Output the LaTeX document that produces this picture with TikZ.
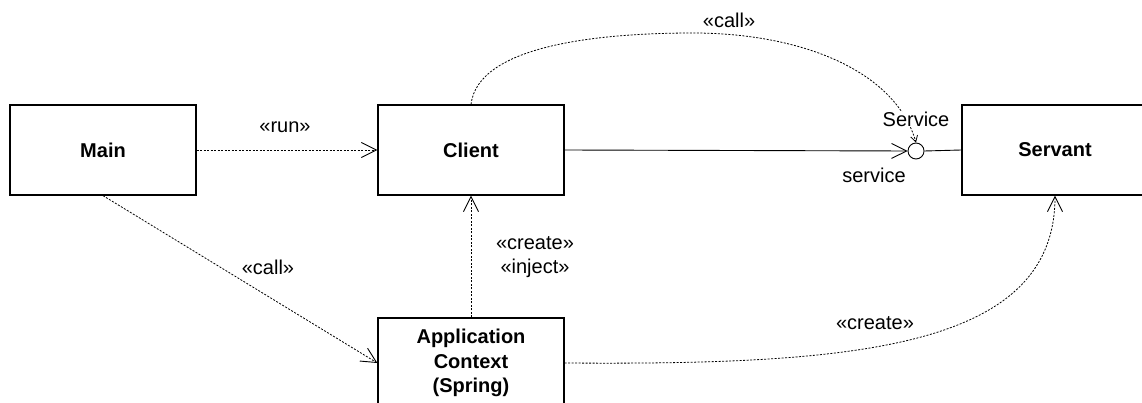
\documentclass[tikz,border=0pt]{standalone}
\usepackage{fontspec}
\setmainfont{Liberation Sans}
\usetikzlibrary{arrows.meta}
\begin{document}
\begin{tikzpicture}[x=1pt,y=-1pt,
  box/.style={draw, line width=1.3pt, minimum width=186pt, minimum height=90pt, inner sep=0pt,
    font=\fontsize{20}{24.5}\selectfont\bfseries, align=center},
  lbl/.style={font=\fontsize{20}{24}\selectfont, inner sep=1pt, align=center},
  dep/.style={dash pattern=on 2pt off 1.5pt, line width=0.8pt},
  openarrow/.style={-{Straight Barb[length=15pt,width=15pt,line width=0.9pt]}},
  smallarrow/.style={-{Straight Barb[length=6pt,width=7pt,line width=0.8pt]}}
]
\useasboundingbox (0,0) rectangle (1142,403);
\node[box] (main) at (103,150) {Main};
\node[box] (client) at (471,150) {Client};
\node[box] (servant) at (1055,150) {Servant};
\node[box] (app) at (471,363) {Application\\Context\\(Spring)};
\node[draw, circle, line width=0.9pt, minimum size=16pt, inner sep=0pt] (iface) at (916,151) {};
\coordinate (peak) at (693,33);

% Main -> Client
\draw[dep, openarrow] (main.east) -- (client.west);
\node[lbl] (lrun) at (285,127) {«run»};
% Main -> App
\draw[dep, openarrow] (main.south) -- (app.west);
\node[lbl] (lcall1) at (268,267) {«call»};
% App -> Client
\draw[dep, openarrow] (app.north) -- (client.south);
\node[lbl] (lci) at (535,257) {«create»\\«inject»};
% Client -> Service
\draw[line width=0.9pt, openarrow] (client.east) -- (iface.west);
\draw[line width=0.9pt] (iface.east) -- (servant.west);
\node[lbl] (lsvc) at (874,175) {service};
% call curve
\draw[dep, smallarrow] (client.north) .. controls (478,45) and (600,33) .. (peak)
  .. controls (800,33) and (895,70) .. (iface.north);
\node[lbl] (lcall2) at (729,20) {«call»};
\node[lbl, fill=white, inner sep=0pt] (lService) at (916,119) {Service};
% App -> Servant
\draw[dep, openarrow] (app.east) .. controls (850,365) and (1055,350) .. (servant.south);
\node[lbl] (lcreate) at (875,323) {«create»};
\end{tikzpicture}
\end{document}
